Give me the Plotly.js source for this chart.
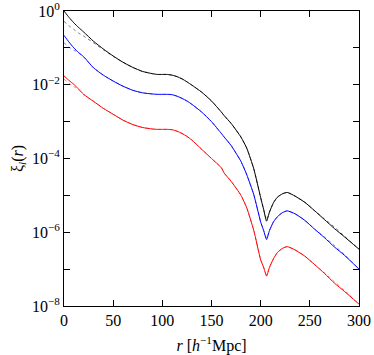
<!DOCTYPE html>
<html>
<head>
<meta charset="utf-8">
<script src="https://cdn.plot.ly/plotly-3.0.1.min.js"></script>
<style>html,body{margin:0;padding:0;background:#fff;}#chart{width:374px;height:355px;}</style>
</head>
<body>
<div id="chart"></div>
<script>
// separation r [h^-1 Mpc]
var r = [0,5,10,15,20,30,40,50,60,70,80,90,95,100,105,110,115,120,125,130,140,150,160,163,170,180,186,193,200,203,206,209,213,217,222,227,235,245,255,265,275,285,300];

// log10 of xi_l(r), solid curves
var blackLog = [0.00,-0.17,-0.32,-0.45,-0.57,-0.82,-1.03,-1.22,-1.39,-1.53,-1.64,-1.70,-1.72,-1.72,-1.72,-1.74,-1.78,-1.84,-1.92,-2.01,-2.20,-2.44,-2.74,-2.84,-3.05,-3.42,-3.73,-4.28,-5.06,-5.38,-5.70,-5.45,-5.20,-5.05,-4.96,-4.92,-5.02,-5.19,-5.42,-5.66,-5.90,-6.12,-6.46];
var blueLog  = [-0.66,-0.84,-1.00,-1.13,-1.24,-1.54,-1.74,-1.90,-2.04,-2.15,-2.22,-2.25,-2.26,-2.26,-2.26,-2.27,-2.31,-2.37,-2.44,-2.53,-2.74,-3.00,-3.32,-3.42,-3.65,-4.08,-4.45,-4.98,-5.72,-5.95,-6.20,-5.95,-5.72,-5.58,-5.47,-5.42,-5.50,-5.68,-5.92,-6.15,-6.40,-6.62,-7.00];
var redLog   = [-1.76,-1.88,-1.99,-2.12,-2.26,-2.45,-2.64,-2.80,-2.96,-3.08,-3.16,-3.20,-3.21,-3.21,-3.21,-3.22,-3.26,-3.32,-3.40,-3.50,-3.75,-4.00,-4.25,-4.40,-4.62,-5.00,-5.35,-5.95,-6.75,-6.95,-7.19,-6.95,-6.72,-6.55,-6.44,-6.39,-6.48,-6.65,-6.88,-7.12,-7.38,-7.60,-7.95];

// dotted counterparts (differ mainly at small r)
var blackDotLog = [-0.28,-0.40,-0.50,-0.60,-0.68,-0.86,-1.05,-1.23,-1.39,-1.53,-1.64,-1.70,-1.72,-1.72,-1.72,-1.74,-1.78,-1.84,-1.92,-2.01,-2.20,-2.44,-2.74,-2.84,-3.05,-3.42,-3.73,-4.28,-5.06,-5.38,-5.66,-5.45,-5.20,-5.05,-4.96,-4.92,-5.02,-5.19,-5.42,-5.64,-5.86,-6.10,-6.46];
var blueDotLog  = [-0.86,-0.98,-1.06,-1.14,-1.25,-1.54,-1.74,-1.90,-2.04,-2.15,-2.22,-2.25,-2.26,-2.26,-2.26,-2.27,-2.31,-2.37,-2.44,-2.53,-2.74,-3.00,-3.32,-3.42,-3.65,-4.08,-4.45,-4.98,-5.72,-5.95,-6.16,-5.95,-5.72,-5.58,-5.47,-5.42,-5.50,-5.68,-5.92,-6.13,-6.36,-6.60,-7.00];
var redDotLog   = [-1.85,-1.96,-2.05,-2.14,-2.27,-2.45,-2.64,-2.80,-2.96,-3.08,-3.16,-3.20,-3.21,-3.21,-3.21,-3.22,-3.26,-3.32,-3.40,-3.50,-3.75,-4.00,-4.25,-4.40,-4.62,-5.00,-5.35,-5.95,-6.75,-6.95,-7.15,-6.95,-6.72,-6.55,-6.44,-6.39,-6.48,-6.65,-6.88,-7.10,-7.34,-7.57,-7.95];

var yTickVals = [1,1e-1,1e-2,1e-3,1e-4,1e-5,1e-6,1e-7,1e-8];
var yTickText = ['10<sup>0</sup>','','10<sup>\u22122</sup>','','10<sup>\u22124</sup>','','10<sup>\u22126</sup>','','10<sup>\u22128</sup>'];
var xTickVals = [0,50,100,150,200,250,300];

function toVal(a){ return a.map(function(v){ return Math.pow(10, v); }); }

var traces = [
  {x:r, y:toVal(blackDotLog), mode:'lines', line:{color:'rgba(0,0,0,0.55)', width:1, dash:'dot', shape:'spline', smoothing:0.5}, hoverinfo:'skip'},
  {x:r, y:toVal(blueDotLog),  mode:'lines', line:{color:'rgba(0,0,255,0.5)', width:1, dash:'dot', shape:'spline', smoothing:0.5}, hoverinfo:'skip'},
  {x:r, y:toVal(redDotLog),   mode:'lines', line:{color:'rgba(255,0,0,0.5)', width:1, dash:'dot', shape:'spline', smoothing:0.5}, hoverinfo:'skip'},
  {x:r, y:toVal(blackLog), mode:'lines', line:{color:'#000000', width:1, shape:'spline', smoothing:0.5}},
  {x:r, y:toVal(blueLog),  mode:'lines', line:{color:'#0000ff', width:1, shape:'spline', smoothing:0.5}},
  {x:r, y:toVal(redLog),   mode:'lines', line:{color:'#ff0000', width:1, shape:'spline', smoothing:0.5}}
];

var fnt = {family:'"Liberation Serif", "DejaVu Serif", serif', size:16, color:'#000'};

var layout = {
  width:374, height:355,
  margin:{l:64, r:15, t:11, b:49, pad:0},
  paper_bgcolor:'#fff', plot_bgcolor:'#fff',
  showlegend:false,
  font:fnt,
  xaxis:{
    range:[0,300], tickvals:xTickVals, ticks:'inside', ticklen:6, tickcolor:'#000',
    showline:true, linecolor:'#000', linewidth:1, mirror:'ticks',
    showgrid:false, zeroline:false, tickfont:fnt, ticklabeloverflow:'allow',
    title:{text:'<i>r</i> [<i>h</i><sup>\u22121</sup>Mpc]', font:fnt, standoff:13}
  },
  yaxis:{
    type:'log', range:[-8.0005,0.0005], tickvals:yTickVals, ticktext:yTickText,
    ticks:'inside', ticklen:6, tickcolor:'#000',
    showline:true, linecolor:'#000', linewidth:1, mirror:'ticks',
    showgrid:false, zeroline:false, tickfont:fnt, ticklabeloverflow:'allow',
    title:{text:'\u03BE<sub><i>l</i></sub>(<i>r</i>)', font:fnt, standoff:4}
  }
};

Plotly.newPlot('chart', traces, layout, {displayModeBar:false, staticPlot:true});
</script>
</body>
</html>
